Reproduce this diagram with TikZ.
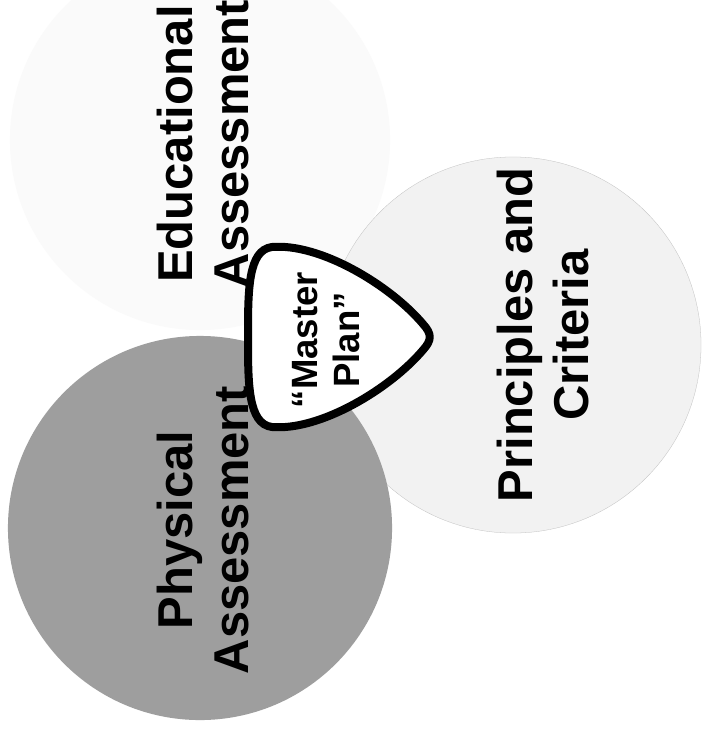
\documentclass[tikz,border=0pt]{standalone}
\usepackage{fontspec}
\setmainfont{Liberation Sans}

\begin{document}
\begin{tikzpicture}[x=0.025cm,y=-0.025cm,
      every node/.style={inner sep=0pt,rotate=90,align=center},
      biglabel/.style={font=\fontsize{34.8}{39.8}\selectfont\bfseries},
      planlabel/.style={font=\fontsize{26}{30}\selectfont\bfseries}]
  \useasboundingbox[fill=white](0,0)rectangle(706,729);
  % the three circles
  \fill[black!2](200,140)circle(4.75cm);
  \fill[black!5](513,345)circle(4.7cm);
  \draw[black!25,very thin](513,345)circle(4.7cm);
  \fill[black!38](200,528)circle(4.8cm);
  % the master plan in the middle
  \draw[line width=0.2cm,fill=white,line join=round]
    (248,337) .. controls (248,290) and (248,250) .. (272,247)
    .. controls (320,243) and (390,285) .. (423,324)
    .. controls (432,334) and (432,340) .. (423,350)
    .. controls (390,389) and (320,431) .. (272,427)
    .. controls (248,424) and (248,384) .. cycle;
  \node[planlabel](plan) at (326,340){``Master\\Plan''};
  % labels
  \node[biglabel](educ) at (203,144){Educational\\Assessment};
  \node[biglabel](phys) at (203,530){Physical\\Assessment};
  \node[biglabel](princ) at (543,335){Principles and\\Criteria};
\end{tikzpicture}
\end{document}
